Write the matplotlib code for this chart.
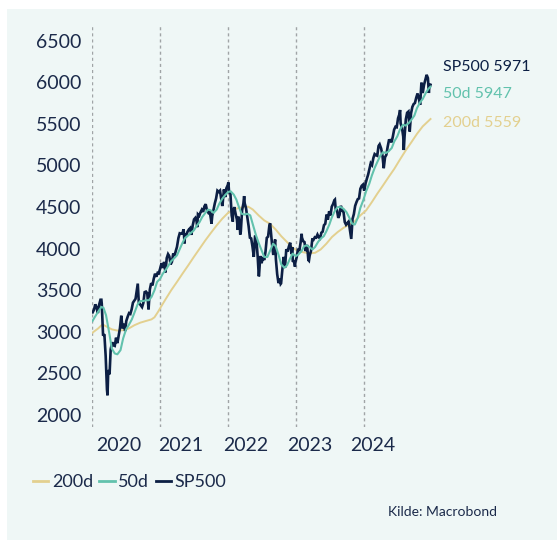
import matplotlib
matplotlib.use("Agg")
import matplotlib.pyplot as plt
import matplotlib.dates as mdates
from matplotlib.patches import Rectangle
from matplotlib.lines import Line2D
import pandas as pd

# ---------------- data ----------------
sp_dates = [
 "2020-01-03","2020-01-10","2020-01-17","2020-01-24","2020-01-31","2020-02-07","2020-02-14","2020-02-19","2020-02-21","2020-02-28",
 "2020-03-06","2020-03-13","2020-03-20","2020-03-23","2020-03-27","2020-04-03","2020-04-09","2020-04-17","2020-04-24","2020-05-01",
 "2020-05-08","2020-05-15","2020-05-22","2020-05-29","2020-06-05","2020-06-12","2020-06-19","2020-06-26","2020-07-02","2020-07-10",
 "2020-07-17","2020-07-24","2020-07-31","2020-08-07","2020-08-14","2020-08-21","2020-08-28","2020-09-02","2020-09-08","2020-09-11",
 "2020-09-18","2020-09-25","2020-10-02","2020-10-09","2020-10-16","2020-10-23","2020-10-30","2020-11-06","2020-11-13","2020-11-20",
 "2020-11-27","2020-12-04","2020-12-11","2020-12-18","2020-12-24","2020-12-31",
 "2021-01-08","2021-01-15","2021-01-22","2021-01-29","2021-02-05","2021-02-12","2021-02-19","2021-02-26","2021-03-05","2021-03-12",
 "2021-03-19","2021-03-26","2021-04-01","2021-04-09","2021-04-16","2021-04-23","2021-04-30","2021-05-07","2021-05-12","2021-05-14",
 "2021-05-21","2021-05-28","2021-06-04","2021-06-11","2021-06-18","2021-06-25","2021-07-02","2021-07-09","2021-07-16","2021-07-19",
 "2021-07-23","2021-07-30","2021-08-06","2021-08-13","2021-08-20","2021-08-27","2021-09-03","2021-09-10","2021-09-17","2021-09-24",
 "2021-10-01","2021-10-04","2021-10-08","2021-10-15","2021-10-22","2021-10-29","2021-11-05","2021-11-12","2021-11-19","2021-11-26",
 "2021-12-01","2021-12-03","2021-12-10","2021-12-17","2021-12-23","2021-12-31",
 "2022-01-03","2022-01-07","2022-01-14","2022-01-21","2022-01-27","2022-01-28","2022-02-04","2022-02-11","2022-02-18","2022-02-23",
 "2022-02-25","2022-03-04","2022-03-08","2022-03-11","2022-03-18","2022-03-25","2022-03-29","2022-04-01","2022-04-08","2022-04-14",
 "2022-04-22","2022-04-29","2022-05-06","2022-05-13","2022-05-20","2022-05-27","2022-06-03","2022-06-10","2022-06-16","2022-06-17",
 "2022-06-24","2022-07-01","2022-07-08","2022-07-15","2022-07-22","2022-07-29","2022-08-05","2022-08-12","2022-08-16","2022-08-19",
 "2022-08-26","2022-09-02","2022-09-09","2022-09-12","2022-09-16","2022-09-23","2022-09-30","2022-10-07","2022-10-12","2022-10-14",
 "2022-10-21","2022-10-28","2022-11-04","2022-11-11","2022-11-18","2022-11-25","2022-12-02","2022-12-09","2022-12-13","2022-12-16",
 "2022-12-23","2022-12-28","2022-12-30",
 "2023-01-06","2023-01-13","2023-01-20","2023-01-27","2023-02-02","2023-02-03","2023-02-10","2023-02-17","2023-02-24","2023-03-03",
 "2023-03-10","2023-03-13","2023-03-17","2023-03-24","2023-03-31","2023-04-06","2023-04-14","2023-04-21","2023-04-28","2023-05-05",
 "2023-05-12","2023-05-19","2023-05-26","2023-06-02","2023-06-09","2023-06-16","2023-06-23","2023-06-30","2023-07-07","2023-07-14",
 "2023-07-21","2023-07-28","2023-07-31","2023-08-04","2023-08-11","2023-08-18","2023-08-25","2023-09-01","2023-09-08","2023-09-15",
 "2023-09-22","2023-09-29","2023-10-06","2023-10-13","2023-10-20","2023-10-27","2023-11-03","2023-11-10","2023-11-17","2023-11-24",
 "2023-12-01","2023-12-08","2023-12-15","2023-12-22","2023-12-29",
 "2024-01-05","2024-01-12","2024-01-19","2024-01-26","2024-02-02","2024-02-09","2024-02-16","2024-02-23","2024-03-01","2024-03-08",
 "2024-03-15","2024-03-22","2024-03-28","2024-04-05","2024-04-12","2024-04-19","2024-04-26","2024-05-03","2024-05-10","2024-05-17",
 "2024-05-24","2024-05-31","2024-06-07","2024-06-14","2024-06-21","2024-06-28","2024-07-05","2024-07-12","2024-07-16","2024-07-19",
 "2024-07-26","2024-08-02","2024-08-05","2024-08-09","2024-08-16","2024-08-23","2024-08-30","2024-09-06","2024-09-13","2024-09-20",
 "2024-09-27","2024-10-04","2024-10-11","2024-10-18","2024-10-25","2024-11-01","2024-11-08","2024-11-15","2024-11-22","2024-11-29",
 "2024-12-06","2024-12-13","2024-12-18","2024-12-20","2024-12-27"]
sp_values = [
 3235,3265,3330,3295,3226,3328,3386,3386,3338,2954,
 2972,2711,2305,2237,2541,2489,2790,2875,2837,2831,
 2930,2864,2955,3044,3194,3041,3097,3009,3130,3185,
 3225,3216,3271,3351,3373,3397,3508,3580,3331,3341,
 3319,3298,3348,3477,3484,3465,3270,3510,3585,3558,
 3638,3699,3663,3709,3703,3756,
 3825,3768,3841,3714,3887,3934,3907,3811,3842,3943,
 3913,3975,4020,4129,4185,4180,4181,4233,4063,4174,
 4156,4204,4230,4247,4166,4281,4352,4370,4327,4258,
 4412,4395,4437,4468,4442,4509,4535,4459,4433,4455,
 4357,4300,4391,4471,4545,4605,4697,4683,4698,4595,
 4513,4538,4712,4620,4725,4766,
 4797,4677,4663,4398,4326,4432,4500,4419,4349,4225,
 4385,4329,4170,4204,4463,4543,4632,4546,4488,4392,
 4272,4132,4123,4024,3901,4158,4109,3901,3667,3675,
 3912,3825,3899,3863,3962,4130,4145,4280,4305,4228,
 4058,3924,4067,4110,3873,3693,3586,3640,3577,3583,
 3752,3901,3771,3993,3965,4026,4072,3934,4019,3852,
 3845,3783,3840,
 3895,3999,3973,4071,4179,4136,4090,4079,3970,4046,
 3862,3855,3917,3971,4109,4105,4138,4133,4169,4136,
 4124,4192,4205,4282,4299,4410,4348,4450,4399,4505,
 4536,4582,4589,4478,4464,4370,4406,4516,4457,4450,
 4320,4288,4309,4327,4224,4117,4358,4415,4514,4559,
 4595,4604,4719,4755,4770,
 4697,4784,4840,4891,4959,5027,5006,5089,5137,5124,
 5117,5234,5254,5204,5123,4967,5100,5128,5223,5303,
 5305,5278,5347,5431,5465,5460,5567,5615,5667,5505,
 5459,5347,5186,5344,5554,5634,5648,5408,5626,5703,
 5738,5751,5815,5865,5808,5729,5996,5871,5969,6032,
 6090,6051,5872,5931,5971]

ma50_dates = [
 "2020-01-02","2020-01-15","2020-02-01","2020-02-19","2020-03-01","2020-03-15","2020-04-01","2020-04-15","2020-05-01","2020-05-15",
 "2020-06-01","2020-06-15","2020-07-01","2020-07-15","2020-08-01","2020-08-15","2020-09-01","2020-09-15","2020-10-01","2020-10-15",
 "2020-11-01","2020-11-15","2020-12-01","2020-12-15",
 "2021-01-01","2021-01-15","2021-02-01","2021-02-15","2021-03-01","2021-03-15","2021-04-01","2021-04-15","2021-05-01","2021-05-15",
 "2021-06-01","2021-06-15","2021-07-01","2021-07-15","2021-08-01","2021-08-15","2021-09-01","2021-09-15","2021-10-01","2021-10-15",
 "2021-11-01","2021-11-15","2021-12-01","2021-12-15",
 "2022-01-01","2022-01-15","2022-02-01","2022-02-15","2022-03-01","2022-03-15","2022-04-01","2022-04-15","2022-05-01","2022-05-15",
 "2022-06-01","2022-06-15","2022-07-01","2022-07-15","2022-08-01","2022-08-15","2022-09-01","2022-09-15","2022-10-01","2022-10-15",
 "2022-11-01","2022-11-15","2022-12-01","2022-12-15",
 "2023-01-01","2023-01-15","2023-02-01","2023-02-15","2023-03-01","2023-03-15","2023-04-01","2023-04-15","2023-05-01","2023-05-15",
 "2023-06-01","2023-06-15","2023-07-01","2023-07-15","2023-08-01","2023-08-15","2023-09-01","2023-09-15","2023-10-01","2023-10-15",
 "2023-11-01","2023-11-15","2023-12-01","2023-12-15",
 "2024-01-01","2024-01-15","2024-02-01","2024-02-15","2024-03-01","2024-03-15","2024-04-01","2024-04-15","2024-05-01","2024-05-15",
 "2024-06-01","2024-06-15","2024-07-01","2024-07-15","2024-08-01","2024-08-15","2024-09-01","2024-09-15","2024-10-01","2024-10-15",
 "2024-11-01","2024-11-15","2024-12-01","2024-12-15","2024-12-27"]
ma50_values = [
 3130,3180,3240,3300,3290,3200,2990,2800,2740,2730,
 2780,2920,3030,3080,3150,3230,3330,3370,3370,3380,
 3380,3420,3500,3600,
 3640,3700,3750,3800,3850,3880,3920,3990,4070,4130,
 4160,4190,4220,4270,4320,4380,4430,4470,4460,4430,
 4470,4540,4600,4640,
 4680,4690,4650,4590,4500,4420,4410,4420,4400,4290,
 4160,4070,3980,3900,3900,3970,4060,4030,3920,3810,
 3770,3800,3880,3940,
 3910,3930,3970,4030,4040,4020,3990,4020,4080,4120,
 4150,4210,4290,4380,4460,4500,4500,4480,4440,4380,
 4300,4290,4370,4490,
 4590,4690,4780,4880,4970,5040,5120,5160,5150,5170,
 5210,5290,5350,5430,5490,5480,5510,5550,5600,5690,
 5760,5800,5870,5920,5947]

ma200_dates = [
 "2020-01-02","2020-02-01","2020-02-25","2020-03-20","2020-04-15","2020-05-15","2020-06-15","2020-07-15","2020-08-15","2020-09-15",
 "2020-10-15","2020-11-15","2020-12-01","2020-12-20",
 "2021-01-10","2021-02-01","2021-03-01","2021-04-01","2021-05-01","2021-06-01","2021-07-01","2021-08-01","2021-09-01","2021-10-01",
 "2021-11-01","2021-12-01",
 "2022-01-01","2022-02-01","2022-03-01","2022-04-01","2022-04-20","2022-05-15","2022-06-15","2022-07-15","2022-08-15","2022-09-15",
 "2022-10-15","2022-11-15","2022-12-15",
 "2023-01-15","2023-02-15","2023-03-15","2023-04-15","2023-05-15","2023-06-15","2023-07-15","2023-08-15","2023-09-15","2023-10-15",
 "2023-11-15","2023-12-15",
 "2024-01-15","2024-02-15","2024-03-15","2024-04-15","2024-05-15","2024-06-15","2024-07-15","2024-08-15","2024-09-15","2024-10-15",
 "2024-11-15","2024-12-27"]
ma200_values = [
 2990,3040,3090,3060,3030,3015,3020,3040,3080,3110,
 3130,3150,3175,3240,
 3320,3400,3500,3600,3700,3800,3900,4000,4100,4190,
 4280,4360,
 4430,4470,4490,4500,4505,4470,4400,4340,4300,4230,
 4150,4080,4010,
 3970,3955,3945,3950,3990,4060,4140,4200,4250,4290,
 4330,4400,
 4460,4560,4660,4760,4860,4960,5070,5180,5280,5380,
 5470,5559]

year_labels = ["2020", "2021", "2022", "2023", "2024"]
year_label_dates = ["2020-05-20", "2021-04-23", "2022-04-05", "2023-03-15", "2024-02-19"]
year_lines = ["2020-01-01", "2021-01-01", "2022-01-01", "2023-01-01", "2024-01-01"]
y_ticks = [2000, 2500, 3000, 3500, 4000, 4500, 5000, 5500, 6000, 6500]

last_labels = ["SP500 5971", "50d 5947", "200d 5559"]
legend_labels = ["200d", "50d", "SP500"]

# ---------------- style ----------------
NAVY = "#0c1f44"
TEAL = "#62c2ad"
TAN = "#e3d08f"
TEXT = "#1b2a4a"
BG = "#eff7f6"
FONT = "Lato"
plt.rcParams["font.family"] = [FONT, "DejaVu Sans"]

W, H = 557, 540
fig = plt.figure(figsize=(W / 100, H / 100), dpi=100)
fig.patch.set_facecolor("white")
fig.add_artist(Rectangle((7 / W, 0), 1 - 7 / W, 1 - 9 / H, transform=fig.transFigure,
                         facecolor=BG, edgecolor="none", zorder=-10))

ax = fig.add_axes([92.3 / W, 1 - 427 / H, (432 - 92.3) / W, (427 - 25) / H])
ax.set_facecolor("none")
for s in ax.spines.values():
    s.set_visible(False)

sp_d = pd.to_datetime(sp_dates)
m50_d = pd.to_datetime(ma50_dates)
m200_d = pd.to_datetime(ma200_dates)

ax.plot(m200_d, ma200_values, color=TAN, lw=1.4, zorder=3)
ax.plot(sp_d, sp_values, color=NAVY, lw=1.9, zorder=4, solid_joinstyle="miter")
ax.plot(m50_d, ma50_values, color=TEAL, lw=1.5, zorder=5)

for d in year_lines:
    ax.axvline(pd.Timestamp(d), color="#a0a4a6", lw=1.0, ls=(0, (2.2, 2.2)), zorder=1)

ax.set_xlim(pd.Timestamp("2020-01-01"), pd.Timestamp("2025-01-04"))
ax.set_ylim(1856, 6689)
ax.set_yticks(y_ticks)
ax.set_yticklabels([str(v) for v in y_ticks])
ax.set_xticks(pd.to_datetime(year_label_dates))
ax.set_xticklabels(year_labels)
ax.tick_params(axis="both", length=0, colors=TEXT, labelsize=14)
ax.tick_params(axis="y", pad=8)
ax.tick_params(axis="x", pad=7)

# end labels
ys = [67, 94, 123]
cols = [NAVY, TEAL, TAN]
for lab, y, c in zip(last_labels, ys, cols):
    fig.text(443 / W, 1 - y / H, lab, color=c, fontsize=11.5, ha="left", va="center")

# legend
handles = [Line2D([0], [0], color=TAN, lw=2),
           Line2D([0], [0], color=TEAL, lw=2),
           Line2D([0], [0], color=NAVY, lw=2)]
leg = fig.legend(handles, legend_labels, loc="center left", bbox_to_anchor=(33 / W, 1 - 482 / H),
                 ncol=3, frameon=False, handlelength=0.85, handletextpad=0.2, columnspacing=0.35,
                 fontsize=13, borderaxespad=0, borderpad=0)
for t in leg.get_texts():
    t.set_color(TEXT)

fig.text(497 / W, 1 - 512 / H, "Kilde: Macrobond", color=TEXT, fontsize=10, ha="right", va="center")

fig.savefig("out.png", dpi=100, facecolor="white")
